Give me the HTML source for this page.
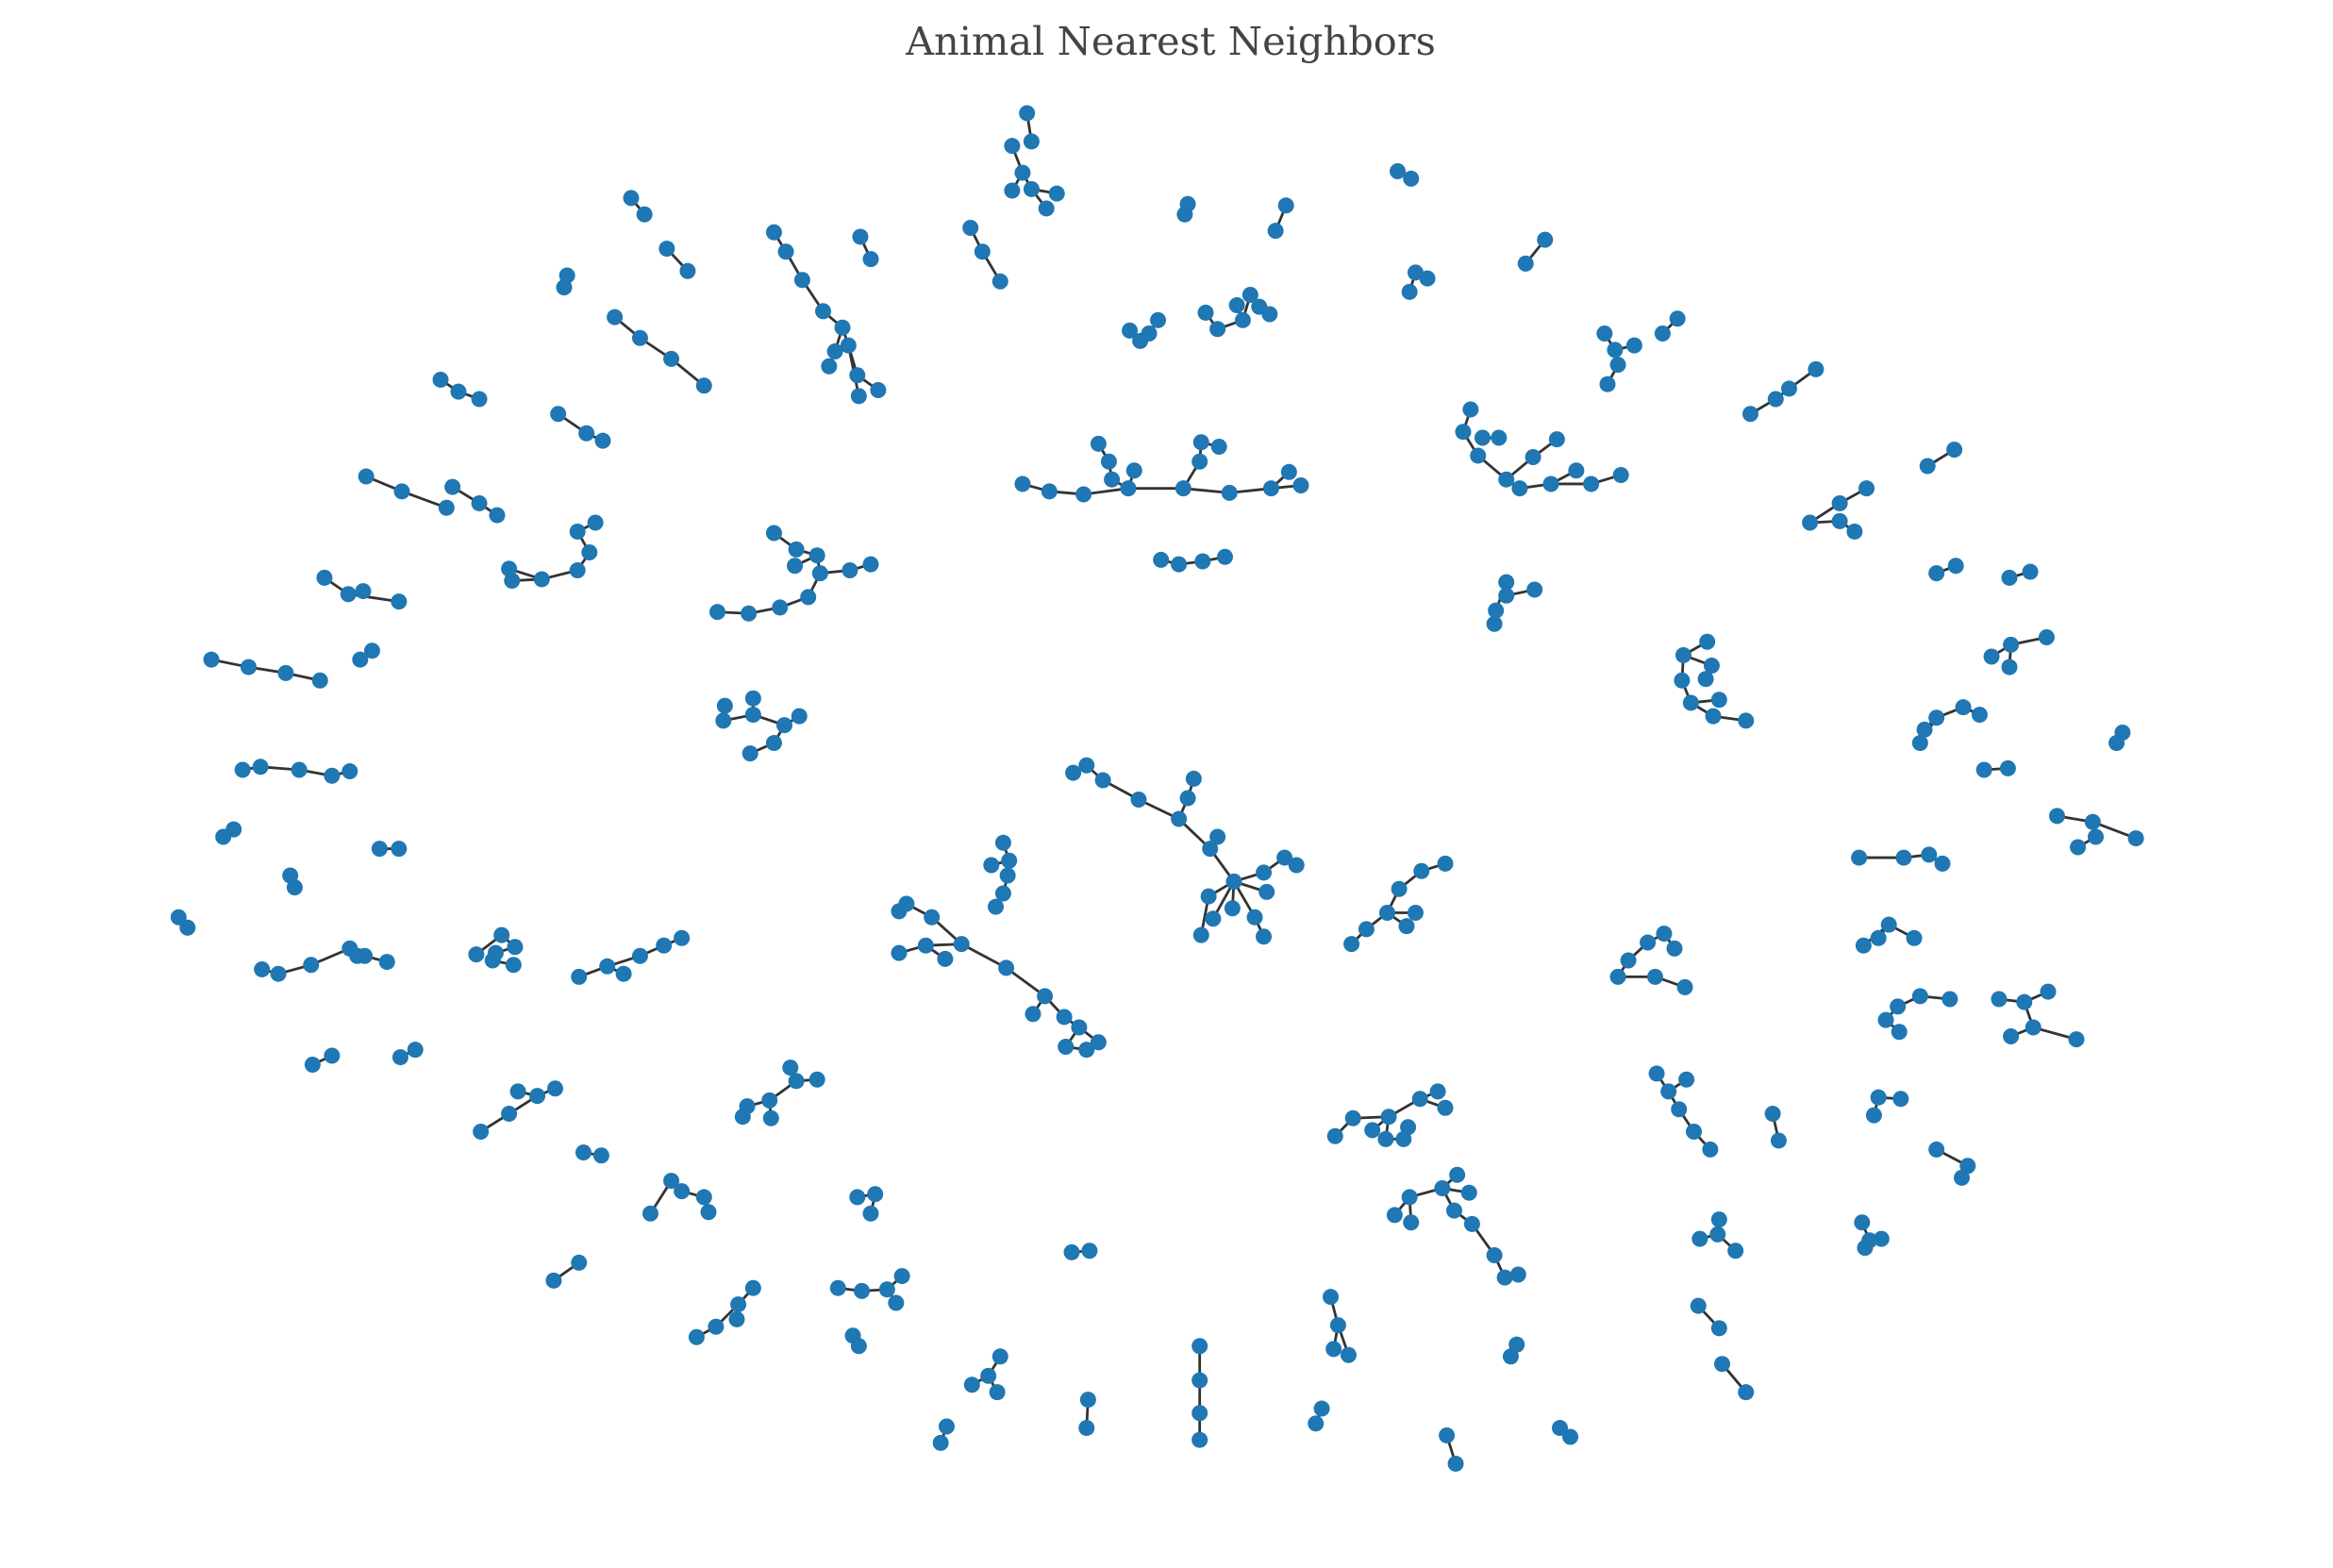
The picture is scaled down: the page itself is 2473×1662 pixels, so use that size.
<!DOCTYPE html>
<html><head><meta charset="utf-8"><title>Animal Nearest Neighbors</title>
<style>html,body{margin:0;padding:0;background:#fff;}svg{display:block;}</style>
</head><body>
<svg id="chart" width="2473" height="1662" viewBox="0 0 2473 1662" xmlns="http://www.w3.org/2000/svg">
<text x="1241" y="58" text-anchor="middle" font-family="'DejaVu Serif', 'Liberation Serif', serif" font-size="41.5" fill="#444">Animal Nearest Neighbors</text>
<g id="edges"></g>
<g id="nodes"></g>
</svg>
<script>
// Each chain is a polyline of node positions in layout units (connected consecutive nodes = edges)
const chains = [
[[690,76],[693,95]],[[680,98],[687,116],[693,127],[703,140]],[[687,116],[680,128]],[[693,127],[710,130]],
[[798,137],[796,144]],[[864,138],[857,155]],[[939,115],[948,120]],[[424,133],[433,144]],[[448,167],[462,182]],[[381,185],[379,193]],
[[520,156],[528,169],[539,188],[553,209],[566,220],[570,232],[576,252],[590,262]],[[566,220],[561,236],[557,246]],[[570,232],[577,266]],
[[578,159],[585,174]],[[652,153],[660,169],[672,189]],[[1038,161],[1025,177]],[[951,183],[959,187]],[[951,183],[947,196]],
[[759,222],[766,229],[772,224],[778,215]],
[[810,210],[818,221],[835,215],[840,198],[846,206],[853,211]],[[835,215],[831,205]],
[[413,213],[430,227],[451,241],[473,259]],[[296,255],[308,263],[322,268]],[[375,278],[394,291],[405,296]],
[[246,320],[270,330],[300,341]],[[304,327],[322,338],[334,346]],
[[1078,224],[1085,235],[1098,232]],[[1085,235],[1087,245],[1080,258]],[[1117,224],[1127,214]],
[[1176,278],[1193,268],[1202,261],[1220,248]],
[[988,275],[983,290],[993,306],[1012,322],[1021,328],[1042,325],[1069,325],[1089,319]],[[996,294],[1007,294]],[[1012,322],[1030,307],[1046,295]],[[1042,325],[1059,316]],
[[1295,313],[1313,302]],
[[687,325],[705,330],[728,332],[758,328],[795,328],[826,331],[854,328],[874,326]],[[738,298],[745,310],[747,322],[758,328]],[[758,328],[762,316]],[[795,328],[806,310],[807,297],[819,300]],[[854,328],[866,317]],
[[780,376],[792,379],[808,377],[823,374]],
[[1216,351],[1236,338],[1254,328]],[[1216,351],[1236,350],[1246,357]],
[[400,351],[388,357],[396,371],[388,383],[364,389],[344,390]],[[342,382],[364,389]],
[[520,358],[535,369],[549,373],[551,385],[571,383],[585,379]],[[549,373],[534,380]],[[551,385],[543,401],[524,408],[503,412],[482,411]],
[[1301,385],[1314,380]],[[1350,388],[1364,384]],
[[218,388],[234,399],[268,404]],[[244,397],[234,399]],
[[1012,391],[1005,410],[1004,419]],[[1012,391],[1012,400],[1031,396]],
[[1147,431],[1131,440],[1130,457],[1136,472],[1151,481],[1173,484]],[[1131,440],[1150,447],[1146,456]],[[1136,472],[1155,470]],
[[1338,441],[1351,433],[1375,428]],[[1351,433],[1350,448]],
[[142,443],[167,448],[192,452],[215,457]],[[250,437],[242,443]],
[[487,474],[486,484],[506,480],[527,487],[537,481]],[[506,469],[506,480]],[[527,487],[520,499],[504,506]],
[[1301,482],[1290,499]],[[1301,482],[1319,475],[1330,480]],[[1293,490],[1301,482]],
[[1426,492],[1422,499]],
[[163,517],[175,515],[201,517],[223,521],[235,518]],[[1333,517],[1349,516]],
[[721,519],[730,514],[741,524],[765,537],[792,550],[798,536],[802,523]],[[792,550],[813,570],[829,592],[849,586],[863,576],[871,581]],[[813,570],[818,562]],[[829,592],[812,602],[807,628]],[[829,592],[815,617]],[[829,592],[828,610]],[[829,592],[843,616],[849,629]],[[829,592],[851,599]],
[[150,562],[157,557]],
[[1382,548],[1406,552],[1435,563]],[[1406,552],[1408,562],[1396,569]],
[[255,570],[268,570]],
[[674,566],[678,578],[666,581]],[[678,578],[677,588],[674,600],[669,609]],
[[1249,576],[1279,576],[1296,574],[1305,580]],[[195,588],[198,596]],
[[971,580],[955,585],[940,597],[932,613],[918,624],[908,634]],[[932,613],[945,622]],[[932,613],[951,613]],
[[604,612],[609,607],[626,616],[646,634],[676,650],[702,669],[715,683],[725,690],[738,700]],[[604,640],[622,635],[646,634]],[[635,644],[622,635]],[[694,681],[702,669]],[[725,690],[716,703],[730,705]],
[[120,616],[126,623]],
[[458,630],[446,635],[430,642],[408,649],[389,656]],[[408,649],[419,654]],
[[1118,627],[1107,633],[1094,645],[1087,656],[1112,656],[1132,663]],[[1118,627],[1125,637]],
[[1269,621],[1286,630]],[[1269,621],[1252,635]],[[1262,630],[1269,621]],
[[176,651],[187,654],[209,648],[235,637],[245,642],[260,646]],[[235,637],[240,642]],
[[320,641],[337,628],[346,636],[333,640]],[[331,645],[345,648]],
[[1275,676],[1290,669],[1310,671]],[[1275,676],[1267,685],[1276,693]],
[[1343,671],[1360,673],[1376,666]],[[1366,690],[1395,698]],[[1360,673],[1366,690],[1351,696]],
[[210,715],[223,709]],[[269,710],[279,705]],
[[531,717],[535,726],[549,725]],[[535,726],[517,739],[502,743],[499,750]],[[517,739],[518,751]],
[[1113,721],[1121,733],[1128,745],[1138,760],[1149,772]],[[1121,733],[1133,725]],
[[373,731],[361,736],[348,733]],[[361,736],[342,748],[323,760]],
[[966,733],[954,738],[933,750],[909,751],[897,763]],[[933,750],[931,765],[943,765],[946,757]],[[933,750],[922,759]],[[954,738],[971,744]],
[[1262,737],[1277,738]],[[1262,737],[1259,749]],[[1191,748],[1195,766]],[[392,774],[404,776]],
[[1301,772],[1322,783],[1318,791]],
[[451,793],[458,800],[473,804],[476,814]],[[451,793],[437,815]],
[[588,802],[576,804]],[[588,802],[585,815]],
[[979,789],[969,798],[947,804],[937,816]],[[969,798],[987,801]],[[969,798],[977,813],[989,822],[1004,843],[1011,858],[1020,856]],[[947,804],[948,821]],
[[1251,821],[1256,833],[1264,832]],[[1253,838],[1256,833]],
[[1155,819],[1154,829],[1166,840]],[[1154,829],[1142,832]],
[[720,841],[732,840]],[[372,860],[389,848]],
[[563,865],[579,867],[596,866],[606,857]],[[596,866],[602,875]],
[[506,865],[496,876],[481,891],[468,898]],[[496,876],[495,886]],
[[1141,877],[1155,892]],
[[894,871],[899,890],[906,910]],[[899,890],[896,906]],
[[573,897],[577,904]],[[1019,903],[1015,911]],
[[672,911],[664,924],[653,930]],[[664,924],[670,935]],
[[1157,916],[1173,935]],
[[806,904],[806,927],[806,949],[806,967]],
[[731,940],[730,959]],[[888,946],[884,956]],[[636,958],[632,969]],[[972,964],[978,983]],[[1048,959],[1055,965]]
];
const SX = 2473/1545/1.0145, SY = 1662/1038/1.0145;
function xs(v){return v*SX;}
function ys(v){return v*SY;}
const NS='http://www.w3.org/2000/svg';
const eg=document.getElementById('edges'), ng=document.getElementById('nodes');
const seen=new Set();
chains.forEach(function(ch){
  for(let i=0;i<ch.length-1;i++){
    const l=document.createElementNS(NS,'line');
    l.setAttribute('x1',xs(ch[i][0]));l.setAttribute('y1',ys(ch[i][1]));
    l.setAttribute('x2',xs(ch[i+1][0]));l.setAttribute('y2',ys(ch[i+1][1]));
    l.setAttribute('stroke','#333');l.setAttribute('stroke-width','2.8');
    
    
    eg.appendChild(l);
  }
  ch.forEach(function(p){
    const k=p[0]+','+p[1]; if(seen.has(k))return; seen.add(k);
    const c=document.createElementNS(NS,'circle');
    c.setAttribute('cx',xs(p[0]));c.setAttribute('cy',ys(p[1]));c.setAttribute('r','8.5');
    c.setAttribute('fill','#1f77b4');
    
    
    ng.appendChild(c);
  });
});
</script>
</body></html>
